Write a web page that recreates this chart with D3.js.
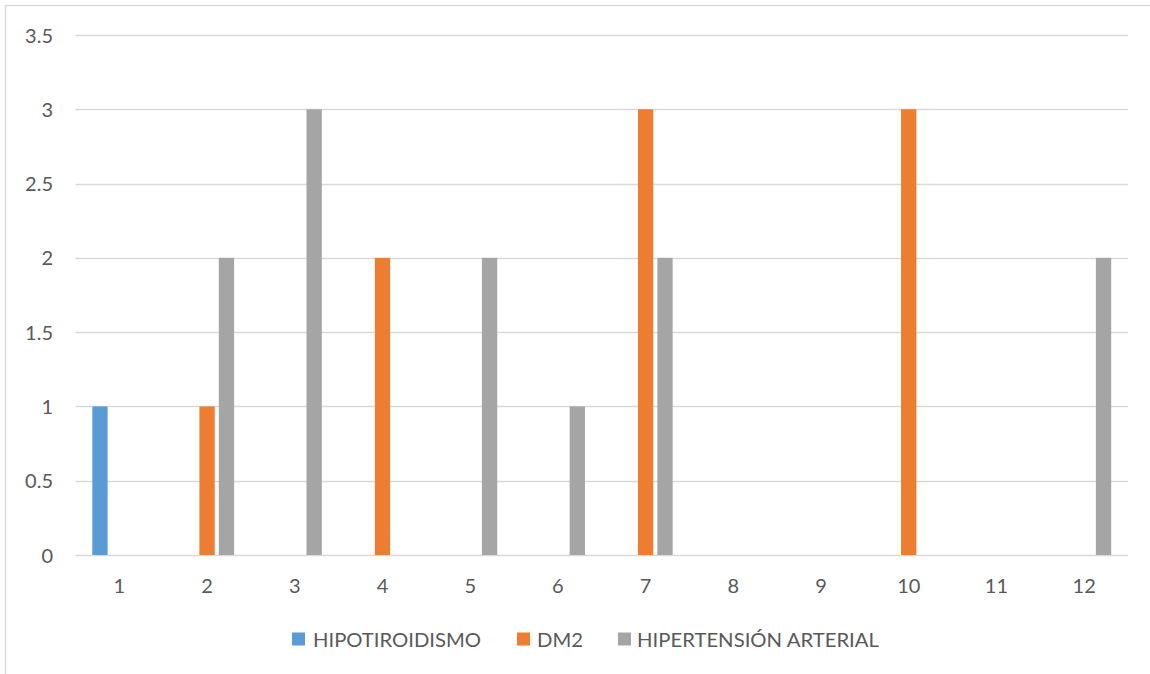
<!DOCTYPE html>
<html><head><meta charset="utf-8">
<script src="https://cdn.jsdelivr.net/npm/d3@7"></script>
<style>html,body{margin:0;padding:0;background:#fff;}svg{display:block;}</style>
</head><body>
<svg id="c" width="1150" height="674"></svg>
<script>
const categories = ["1","2","3","4","5","6","7","8","9","10","11","12"];
const seriesNames = ["HIPOTIROIDISMO","DM2","HIPERTENSIÓN ARTERIAL"];
const hipotiroidismo = [1,0,0,0,0,0,0,0,0,0,0,0];
const dm2 = [0,1,0,2,0,0,3,0,0,3,0,0];
const hipertension = [0,2,3,0,2,1,2,0,0,0,0,2];
const yTicks = [0,0.5,1,1.5,2,2.5,3,3.5];
const colors = ["#5B9BD5","#ED7D31","#A5A5A5"];

const seriesValues = [hipotiroidismo, dm2, hipertension];
const svg = d3.select("#c");
const font = "Lato, 'Open Sans', sans-serif";
const textColor = "#595959";

// chart border
svg.append("rect").attr("x",5.5).attr("y",5.5).attr("width",1200).attr("height",700)
  .attr("fill","none").attr("stroke","#d9d9d9").attr("stroke-width",1.5);

const plotL = 75.5, plotR = 1128, plotT = 35, plotB = 555;
const x0 = d3.scaleBand().domain(categories).range([plotL, plotR]);
const bw = x0.bandwidth();
const groupW = 54.1;
const x1 = d3.scaleBand().domain(seriesNames).range([(bw-groupW)/2,(bw+groupW)/2]).paddingInner(0.21);
const y = d3.scaleLinear().domain([0,3.5]).range([plotB, plotT]);

// gridlines
svg.append("g").selectAll("line").data(yTicks).join("line")
  .attr("x1",plotL).attr("x2",plotR)
  .attr("y1",d=>Math.round(y(d))+0.5).attr("y2",d=>Math.round(y(d))+0.5)
  .attr("stroke","#d9d9d9").attr("stroke-width",1.5);

// y axis labels
const yAxis = d3.axisLeft(y).tickValues(yTicks).tickSize(0).tickPadding(0).tickFormat(d=>String(d));
const gy = svg.append("g").attr("transform",`translate(53,0)`).call(yAxis);
gy.select(".domain").remove();
gy.selectAll("text").attr("font-family",font).attr("font-size",20).attr("fill",textColor).attr("dy","0.35em");

// x axis labels
const xAxis = d3.axisBottom(x0).tickSize(0).tickPadding(0);
const gx = svg.append("g").attr("transform",`translate(0,586)`).call(xAxis);
gx.select(".domain").remove();
gx.selectAll("text").attr("font-family",font).attr("font-size",20).attr("fill",textColor).attr("dy","0.35em");

// bars
const data = [];
categories.forEach((c,i)=>seriesNames.forEach((s,j)=>data.push({c,s,j,v:seriesValues[j][i]})));
svg.append("g").selectAll("rect").data(data.filter(d=>d.v>0)).join("rect")
  .attr("x",d=>x0(d.c)+x1(d.s))
  .attr("width",x1.bandwidth())
  .attr("y",d=>y(d.v))
  .attr("height",d=>y(0)-y(d.v))
  .attr("fill",d=>colors[d.j]);

// legend
const legendItems = [
  {sx:292, tx:313, tl:168},
  {sx:517, tx:537, tl:46},
  {sx:618, tx:637, tl:242}
];
const lg = svg.append("g");
seriesNames.forEach((s,j)=>{
  const it = legendItems[j];
  lg.append("rect").attr("x",it.sx).attr("y",632.5).attr("width",13).attr("height",13).attr("fill",colors[j]);
  lg.append("text").attr("x",it.tx).attr("y",647).attr("font-family",font).attr("font-size",19)
    .attr("fill",textColor).attr("textLength",it.tl).attr("lengthAdjust","spacingAndGlyphs").text(s);
});
</script>
</body></html>
